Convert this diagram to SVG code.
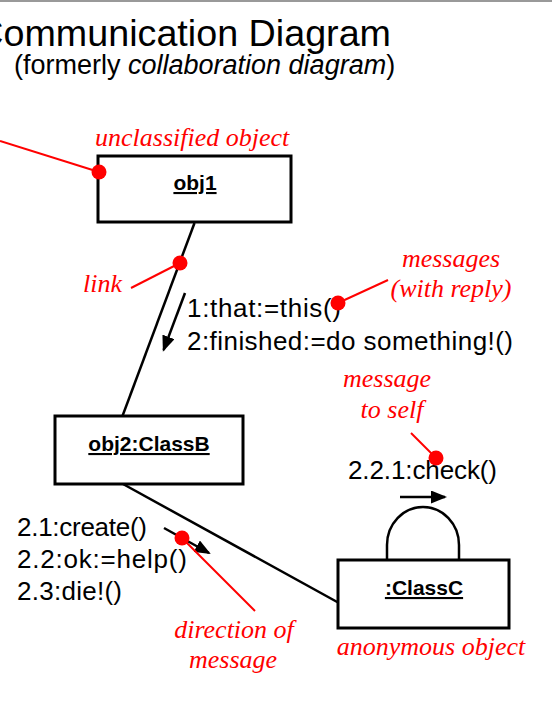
<svg xmlns="http://www.w3.org/2000/svg" width="552" height="716" viewBox="0 0 552 716">
<style>
.box{fill:#fff;stroke:#000;stroke-width:3}
.lnk{fill:none;stroke:#000;stroke-width:2.5}
.arr{fill:none;stroke:#000;stroke-width:2.5}
.name{font-family:"Liberation Sans",Arial,sans-serif;font-weight:bold;font-size:21px;text-decoration:underline;text-anchor:middle;fill:#000}
.msg{font-family:"Liberation Sans",Arial,sans-serif;font-size:26px;fill:#000}
.note{font-family:"Liberation Serif","Times New Roman",serif;font-style:italic;font-size:26px;fill:#ff0000}
.rl{stroke:#ff0000;stroke-width:2;fill:none}
.dot{fill:#ff0000}
</style>
<defs>
<marker id="ah" viewBox="0 0 16 13" refX="14" refY="6.5" markerWidth="16" markerHeight="13" markerUnits="userSpaceOnUse" orient="auto">
<path d="M0,0 L16,6.5 L0,13 z" fill="#000"/>
</marker>
</defs>
<rect width="552" height="716" fill="#fff"/>
<line x1="0" y1="1" x2="552" y2="1" stroke="#999" stroke-width="2"/>
<g id="title">
<text x="391" y="46" text-anchor="end" font-family="'Liberation Sans',Arial,sans-serif" font-size="37.7">Communication Diagram</text>
<text x="14" y="74" font-family="'Liberation Sans',Arial,sans-serif" font-size="27">(formerly <tspan font-style="italic">collaboration diagram</tspan>)</text>
</g>
<g id="connectors">
<line class="lnk" x1="194.5" y1="223" x2="122.5" y2="416"/>
<line class="lnk" x1="123" y1="484" x2="339" y2="603"/>
<path class="lnk" d="M387,560 L387,545 A36,38 0 0 1 459,545 L459,560"/>
<line class="arr" x1="185" y1="293" x2="163.6" y2="350" marker-end="url(#ah)"/>
<line class="arr" x1="164" y1="528" x2="209" y2="553" marker-end="url(#ah)"/>
<line class="arr" x1="400" y1="497" x2="445" y2="497" marker-end="url(#ah)"/>
</g>
<g id="obj1">
<rect class="box" x="98" y="156" width="193" height="66"/>
<text class="name" x="195" y="190">obj1</text>
</g>
<g id="obj2">
<rect class="box" x="55" y="416" width="188" height="68"/>
<text class="name" x="149" y="451">obj2:ClassB</text>
</g>
<g id="classC">
<rect class="box" x="338" y="560" width="171" height="68"/>
<text class="name" x="424" y="595">:ClassC</text>
</g>
<g id="messages">
<text class="msg" x="187" y="317" textLength="154" lengthAdjust="spacing">1:that:=this()</text>
<text class="msg" x="187" y="350" textLength="326" lengthAdjust="spacing">2:finished:=do something!()</text>
<text class="msg" x="17" y="536" textLength="130" lengthAdjust="spacing">2.1:create()</text>
<text class="msg" x="17" y="568" textLength="170" lengthAdjust="spacing">2.2:ok:=help()</text>
<text class="msg" x="17" y="600" textLength="105" lengthAdjust="spacing">2.3:die!()</text>
<text class="msg" x="348" y="479" textLength="149" lengthAdjust="spacing">2.2.1:check()</text>
</g>
<g id="annotations">
<line class="rl" x1="0" y1="141" x2="99" y2="172"/>
<circle class="dot" cx="99" cy="172" r="7.5"/>
<text class="note" x="95" y="146">unclassified object</text>
<line class="rl" x1="131" y1="288" x2="180" y2="263"/>
<circle class="dot" cx="180" cy="263" r="7.5"/>
<text class="note" x="83" y="292">link</text>
<line class="rl" x1="388" y1="280" x2="338" y2="303"/>
<circle class="dot" cx="338" cy="303" r="7.5"/>
<text class="note" x="451" y="267" text-anchor="middle">messages</text>
<text class="note" x="451" y="297" text-anchor="middle">(with reply)</text>
<line class="rl" x1="411" y1="433" x2="436" y2="458"/>
<circle class="dot" cx="436" cy="458" r="7.5"/>
<text class="note" x="387" y="387" text-anchor="middle">message</text>
<text class="note" x="392" y="418" text-anchor="middle">to self</text>
<line class="rl" x1="182" y1="538" x2="255" y2="611"/>
<circle class="dot" cx="182" cy="538" r="7.5"/>
<text class="note" x="234" y="638" text-anchor="middle">direction of</text>
<text class="note" x="233" y="668" text-anchor="middle">message</text>
<text class="note" x="431" y="655" text-anchor="middle">anonymous object</text>
</g>
</svg>
